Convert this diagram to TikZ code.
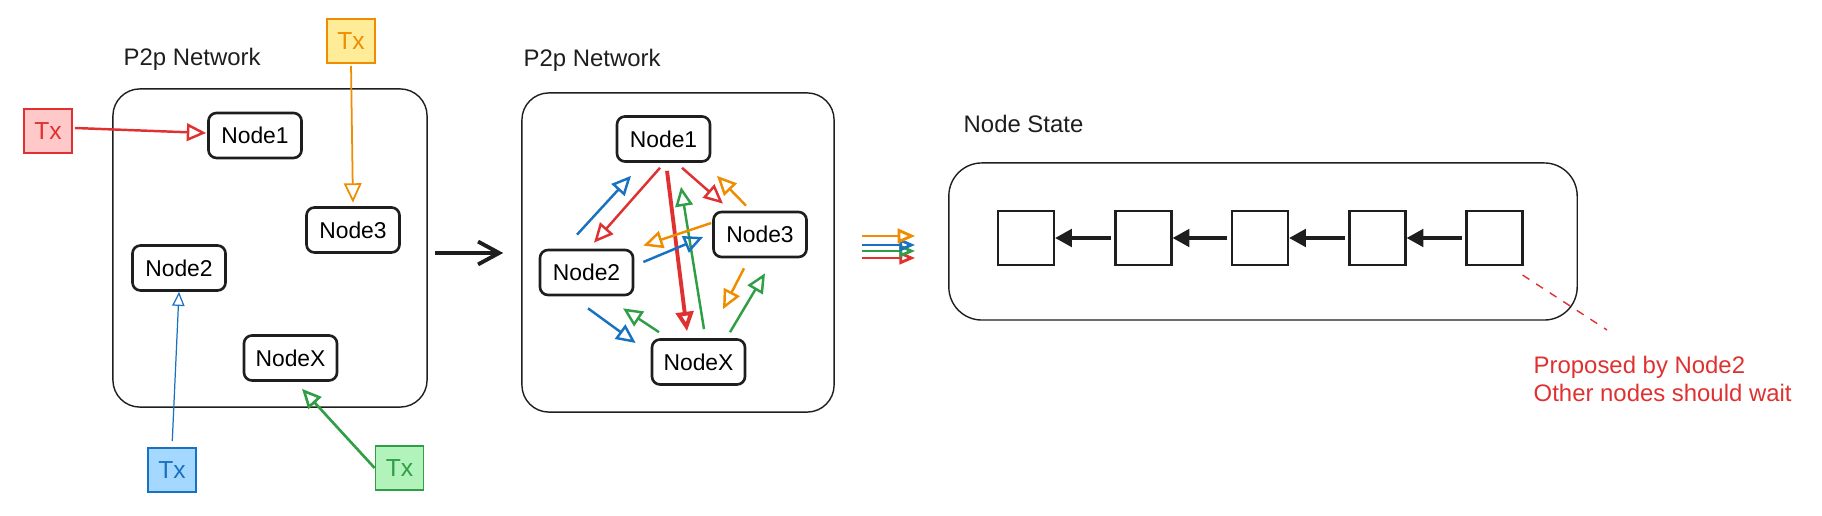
\documentclass[tikz,border=0pt]{standalone}
\usepackage{fontspec}
\setmainfont{Liberation Sans}
\usetikzlibrary{arrows.meta}
\definecolor{ink}{HTML}{1E1E1E}
\definecolor{exred}{HTML}{E03131}
\definecolor{exredfill}{HTML}{FFC9C9}
\definecolor{exorange}{HTML}{F08C00}
\definecolor{exorangefill}{HTML}{FFEC99}
\definecolor{exblue}{HTML}{1971C2}
\definecolor{exbluefill}{HTML}{A5D8FF}
\definecolor{exgreen}{HTML}{2F9E44}
\definecolor{exgreenfill}{HTML}{B2F2BB}
\begin{document}
\begin{tikzpicture}[x=0.01cm,y=-0.01cm,
    nodebox/.style={draw=ink,line width=0.75pt,rounded corners=2.3pt,minimum width=0.93cm,minimum height=0.45cm,inner sep=0pt,font=\fontsize{6.5}{7}\selectfont},
    txbox/.style={line width=0.5pt,minimum width=0.48cm,minimum height=0.44cm,inner sep=0pt,font=\fontsize{7}{8}\selectfont},
    netbox/.style={draw=ink,line width=0.4pt,inner sep=0pt},
    lbl/.style={inner sep=0pt,text=ink,font=\fontsize{6.8}{8.2}\selectfont},
    tri/.style={-{Triangle[open,length=5.5pt,width=5pt]},line width=0.7pt},
    multi/.style={-{Triangle[open,length=4.5pt,width=3.6pt]},line width=0.8pt},
    block/.style={draw=ink,line width=0.6pt,minimum width=0.56cm,minimum height=0.54cm,inner sep=0pt},
    link/.style={-{Triangle[length=4.8pt,width=5pt]},line width=1pt,draw=ink}]
\useasboundingbox (0,0) rectangle (1822,516);

\node[netbox,rounded corners=0.27cm,minimum width=3.14cm,minimum height=3.18cm] (net1) at (270,248) {};
\node[lbl,anchor=base west] (title1) at (123,66) {P2p Network};
\node[nodebox] (n1a) at (255,135.5) {Node1};
\node[nodebox] (n3a) at (353,230) {Node3};
\node[nodebox] (n2a) at (179,268) {Node2};
\node[nodebox] (nxa) at (290.5,358) {NodeX};

\node[txbox,draw=exred,fill=exredfill,text=exred] (txred) at (48,131) {Tx};
\node[txbox,draw=exorange,fill=exorangefill,text=exorange] (txorange) at (351,41) {Tx};
\node[txbox,draw=exblue,fill=exbluefill,text=exblue] (txblue) at (172,470) {Tx};
\node[txbox,draw=exgreen,fill=exgreenfill,text=exgreen] (txgreen) at (399.5,468) {Tx};

\draw[tri,exred,line width=0.7pt] ([shift={(2,-3)}]txred.east) -- ([shift={(-1,-2.5)}]n1a.west);
\draw[tri,exorange,line width=0.5pt,shorten <=0.6pt,shorten >=1pt] (txorange.south) -- (n3a.north);
\draw[-{Triangle[open,length=4pt,width=3.5pt]},exblue,line width=0.35pt,shorten <=1.7pt] (txblue.north) -- (n2a.south);
\draw[tri,exgreen,line width=0.75pt] (txgreen.west) -- ([shift={(11.5,7)}]nxa.south);

\node[netbox,rounded corners=0.27cm,minimum width=3.12cm,minimum height=3.19cm] (net2) at (678,252.5) {};
\node[lbl,anchor=base west] (title2) at (523,67) {P2p Network};
\node[nodebox] (n1b) at (663.5,139) {Node1};
\node[nodebox] (n3b) at (760,234.5) {Node3};
\node[nodebox] (n2b) at (586.5,272.5) {Node2};
\node[nodebox] (nxb) at (698.5,362) {NodeX};

\draw[-{Straight Barb[length=6pt,width=6.5pt]},line width=1.1pt,ink] ([shift={(7,5)}]net1.east) -- ([shift={(-18,0.5)}]net2.west);

\draw[tri,exblue] ([shift={(-9.5,-14)}]n2b.north) -- ([shift={(-32.5,13)}]n1b.south);
\draw[tri,exred] ([shift={(-3.5,5)}]n1b.south) -- ([shift={(7.5,-6)}]n2b.north);
\draw[tri,exred,line width=1.1pt] ([shift={(3.5,8)}]n1b.south) -- ([shift={(-11.5,-7)}]nxb.north);
\draw[tri,exgreen] ([shift={(5.5,-9)}]nxb.north) -- ([shift={(17.5,24)}]n1b.south);
\draw[tri,exred] ([shift={(18.5,5)}]n1b.south) -- ([shift={(-37,-7)}]n3b.north);
\draw[tri,exorange] ([shift={(-14,-5)}]n3b.north) -- ([shift={(53.5,13)}]n1b.south);
\draw[tri,exorange] ([shift={(-1,-11.5)}]n3b.west) -- ([shift={(9,-3)}]n2b.north east);
\draw[tri,exblue] ([shift={(9,-10.5)}]n2b.east) -- ([shift={(-9,2.5)}]n3b.west);
\draw[tri,exorange] ([shift={(-16,10)}]n3b.south) -- ([shift={(24.5,-29)}]nxb.north);
\draw[tri,exgreen] ([shift={(31.5,-6)}]nxb.north) -- ([shift={(5,15)}]n3b.south);
\draw[tri,exblue] ([shift={(1.5,12)}]n2b.south) -- ([shift={(-15,-19)}]nxb.west);
\draw[tri,exgreen] ([shift={(-39.5,-6)}]nxb.north) -- ([shift={(36.5,12)}]n2b.south);

\node[netbox,rounded corners=0.33cm,minimum width=6.28cm,minimum height=1.57cm] (state) at (1263,241.5) {};
\node[lbl,anchor=base west] (title3) at (963,133) {Node State};

\draw[multi,exred] ([shift={(27,5.5)}]net2.east) -- ([shift={(-33,16.5)}]state.west);
\draw[multi,exgreen] ([shift={(27,-1.5)}]net2.east) -- ([shift={(-33,9.5)}]state.west);
\draw[multi,exblue] ([shift={(27,-7.5)}]net2.east) -- ([shift={(-33,3.5)}]state.west);
\draw[multi,exorange,-{Triangle[open,length=5pt,width=4.2pt]}] ([shift={(27,-16.5)}]net2.east) -- ([shift={(-33,-5.5)}]state.west);

\node[block] (s1) at (1026,238) {};
\node[block] (s2) at (1143.5,238) {};
\node[block] (s3) at (1260,238) {};
\node[block] (s4) at (1377.5,238) {};
\node[block] (s5) at (1494.5,238) {};
\draw[link,shorten <=1pt] (s2) -- (s1);
\draw[link,shorten <=1pt] (s3) -- (s2);
\draw[link,shorten <=1pt] (s4) -- (s3);
\draw[link,shorten <=1pt] (s5) -- (s4);

\node[lbl,text=exred,anchor=north west,align=left] (note) at (1533,355) {Proposed by Node2\\Other nodes should wait};
\draw[exred,line width=0.4pt,dash pattern=on 2.3pt off 2.3pt] ([shift={(-1,9)}]s5.south east) -- ([shift={(74,-25)}]note.north west);
\end{tikzpicture}
\end{document}
